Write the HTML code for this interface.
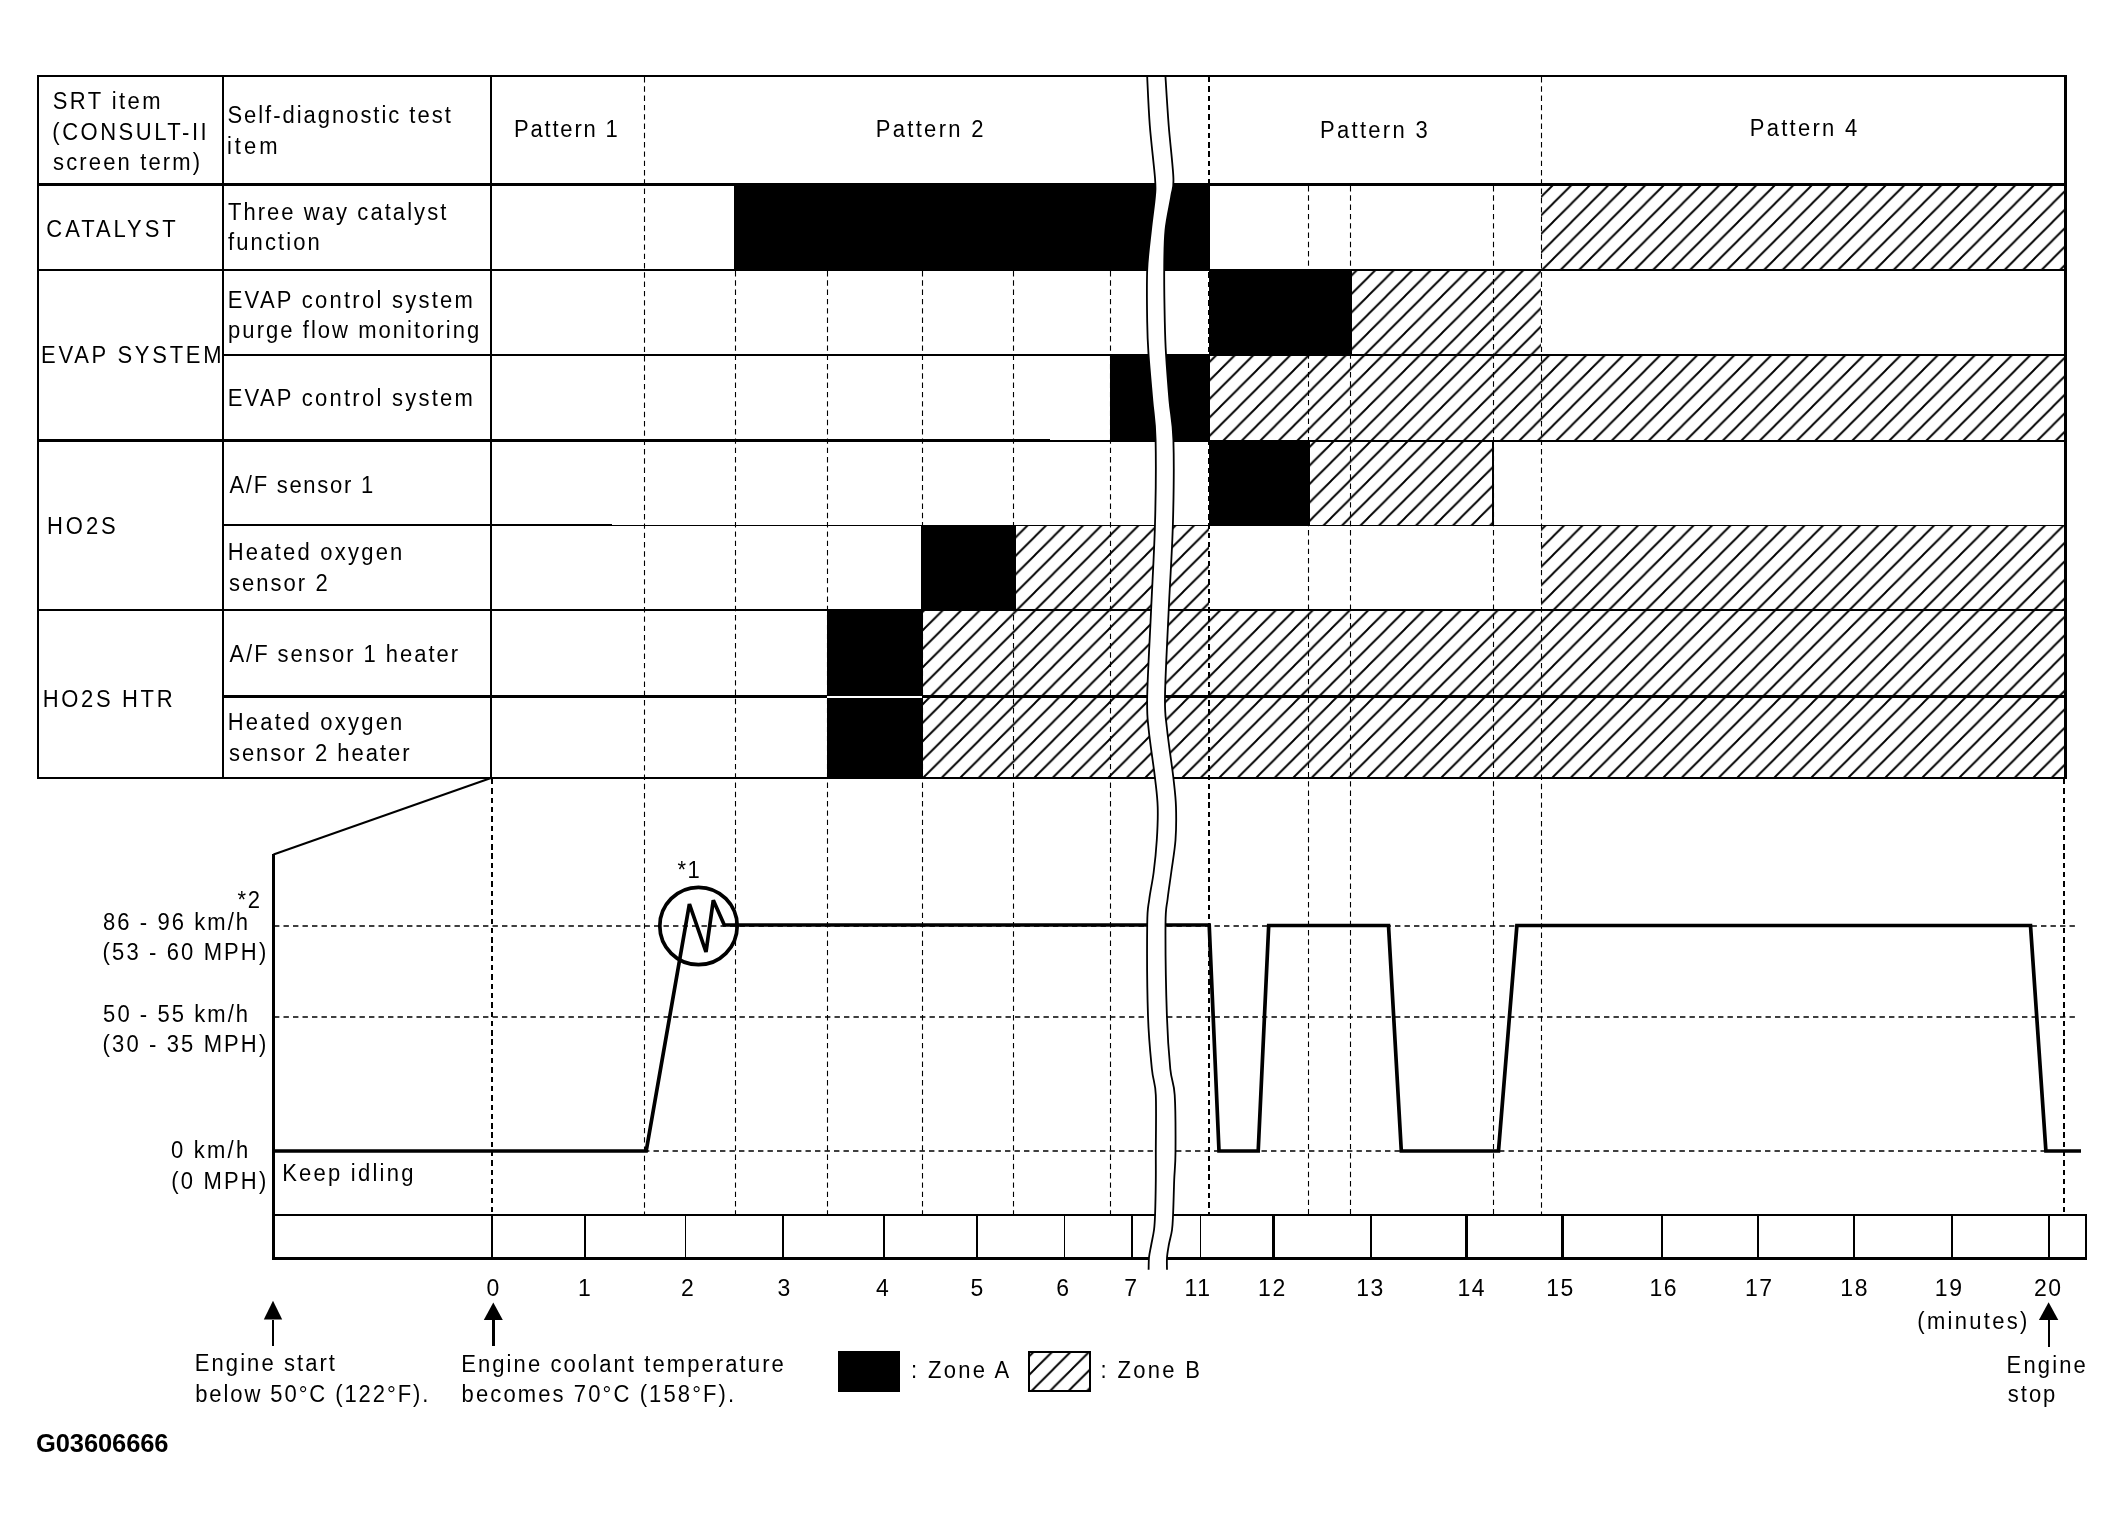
<!DOCTYPE html>
<html><head><meta charset="utf-8"><title>SRT driving pattern</title>
<style>html,body{margin:0;padding:0;background:#fff}svg{display:block}text{font-family:"Liberation Sans",sans-serif;fill:#000}</style></head><body>
<svg width="2124" height="1527" viewBox="0 0 2124 1527">
<defs><pattern id="h" width="18.5" height="18.5" patternUnits="userSpaceOnUse" x="-1" y="0"><path d="M-2,2 L2,-2 M-2,20.5 L20.5,-2 M16.5,20.5 L20.5,16.5" stroke="#000" stroke-width="1.9" fill="none"/></pattern></defs>
<rect width="2124" height="1527" fill="#fff"/>
<g>
<rect x="1541" y="185" width="523" height="85" fill="url(#h)"/>
<rect x="1351" y="270" width="190" height="85" fill="url(#h)"/>
<rect x="1209" y="355" width="855" height="85" fill="url(#h)"/>
<rect x="1309" y="440" width="184" height="85" fill="url(#h)"/>
<rect x="1015" y="525" width="194" height="85" fill="url(#h)"/>
<rect x="1541" y="525" width="523" height="85" fill="url(#h)"/>
<rect x="922" y="610" width="1142" height="86" fill="url(#h)"/>
<rect x="922" y="696" width="1142" height="82" fill="url(#h)"/>
</g><g fill="#000" shape-rendering="crispEdges">
<rect x="734" y="185" width="476" height="85"/>
<rect x="1209" y="270" width="142.5" height="85"/>
<rect x="1110" y="355" width="100" height="85"/>
<rect x="1209" y="440" width="100.5" height="85"/>
<rect x="920.5" y="525" width="95.0" height="85"/>
<rect x="827" y="610" width="95.5" height="86"/>
<rect x="827" y="696" width="95.5" height="82"/>
</g>
<g stroke="#000" fill="none" shape-rendering="crispEdges">
<line x1="37" y1="76" x2="2066.5" y2="76" stroke-width="2"/>
<line x1="37" y1="184.5" x2="2066" y2="184.5" stroke-width="3"/>
<line x1="37" y1="270" x2="2066" y2="270" stroke-width="2"/>
<line x1="223" y1="355" x2="2066" y2="355" stroke-width="2"/>
<line x1="37" y1="440.5" x2="1050" y2="440.5" stroke-width="3"/>
<line x1="1050" y1="441" x2="2066" y2="441" stroke-width="2"/>
<line x1="223" y1="525" x2="612" y2="525" stroke-width="2"/>
<line x1="612" y1="525.5" x2="2066" y2="525.5" stroke-width="1"/>
<line x1="37" y1="610" x2="2066" y2="610" stroke-width="2"/>
<line x1="223" y1="696.5" x2="2066" y2="696.5" stroke-width="3"/>
<line x1="37" y1="778" x2="2066" y2="778" stroke-width="2"/>
<line x1="38" y1="75" x2="38" y2="779" stroke-width="2"/>
<line x1="223" y1="75" x2="223" y2="779" stroke-width="2"/>
<line x1="491" y1="75" x2="491" y2="779" stroke-width="2"/>
<line x1="2065" y1="75" x2="2065" y2="779" stroke-width="3"/>
<line x1="1493" y1="440" x2="1493" y2="525" stroke-width="2"/>
<line x1="827" y1="696.5" x2="922" y2="696.5" stroke="#fff" stroke-width="2"/>
<line x1="273.5" y1="854" x2="273.5" y2="1260" stroke-width="3"/>
<line x1="272" y1="1215" x2="2087" y2="1215" stroke-width="2"/>
<line x1="272" y1="1258.5" x2="2087" y2="1258.5" stroke-width="3"/>
<line x1="2086" y1="1214" x2="2086" y2="1260" stroke-width="2"/>
<line x1="491.5" y1="1215" x2="491.5" y2="1258" stroke-width="2"/>
<line x1="584.7" y1="1215" x2="584.7" y2="1258" stroke-width="2"/>
<line x1="685.2" y1="1215" x2="685.2" y2="1258" stroke-width="1"/>
<line x1="783" y1="1215" x2="783" y2="1258" stroke-width="2"/>
<line x1="883.7" y1="1215" x2="883.7" y2="1258" stroke-width="2"/>
<line x1="977" y1="1215" x2="977" y2="1258" stroke-width="2"/>
<line x1="1064.3" y1="1215" x2="1064.3" y2="1258" stroke-width="1"/>
<line x1="1132.2" y1="1215" x2="1132.2" y2="1258" stroke-width="2"/>
<line x1="1200.5" y1="1215" x2="1200.5" y2="1258" stroke-width="1"/>
<line x1="1273" y1="1215" x2="1273" y2="1258" stroke-width="3"/>
<line x1="1371.2" y1="1215" x2="1371.2" y2="1258" stroke-width="2"/>
<line x1="1466.4" y1="1215" x2="1466.4" y2="1258" stroke-width="3"/>
<line x1="1562.6" y1="1215" x2="1562.6" y2="1258" stroke-width="3"/>
<line x1="1662.4" y1="1215" x2="1662.4" y2="1258" stroke-width="2"/>
<line x1="1757.9" y1="1215" x2="1757.9" y2="1258" stroke-width="2"/>
<line x1="1854" y1="1215" x2="1854" y2="1258" stroke-width="2"/>
<line x1="1951.5" y1="1215" x2="1951.5" y2="1258" stroke-width="2"/>
<line x1="2049.3" y1="1215" x2="2049.3" y2="1258" stroke-width="2"/>
</g>
<line x1="491" y1="778" x2="273.5" y2="854.5" stroke="#000" stroke-width="2"/>
<g stroke="#000" fill="none">
<line x1="492" y1="779" x2="492" y2="1215" stroke-width="2" stroke-dasharray="5.4 3.9" shape-rendering="crispEdges"/>
<line x1="644.5" y1="77" x2="644.5" y2="1215" stroke-width="1.1" stroke-dasharray="5.4 3.9"/>
<line x1="735.5" y1="271" x2="735.5" y2="1215" stroke-width="1.1" stroke-dasharray="5.4 3.9"/>
<line x1="827.5" y1="271" x2="827.5" y2="1215" stroke-width="1.1" stroke-dasharray="5.4 3.9"/>
<line x1="922.5" y1="271" x2="922.5" y2="1215" stroke-width="1.1" stroke-dasharray="5.4 3.9"/>
<line x1="1013.5" y1="271" x2="1013.5" y2="1215" stroke-width="1.1" stroke-dasharray="5.4 3.9"/>
<line x1="1110.5" y1="271" x2="1110.5" y2="1215" stroke-width="1.1" stroke-dasharray="5.4 3.9"/>
<line x1="1209" y1="77" x2="1209" y2="1215" stroke-width="2" stroke-dasharray="5.4 3.9" shape-rendering="crispEdges"/>
<line x1="1308.5" y1="186" x2="1308.5" y2="1215" stroke-width="1.1" stroke-dasharray="5.4 3.9"/>
<line x1="1350.5" y1="186" x2="1350.5" y2="1215" stroke-width="1.1" stroke-dasharray="5.4 3.9"/>
<line x1="1493.5" y1="186" x2="1493.5" y2="1215" stroke-width="1.1" stroke-dasharray="5.4 3.9"/>
<line x1="1541.5" y1="77" x2="1541.5" y2="1215" stroke-width="1.1" stroke-dasharray="5.4 3.9"/>
<line x1="2064" y1="779" x2="2064" y2="1215" stroke-width="2" stroke-dasharray="5.4 3.9" shape-rendering="crispEdges"/>
<line x1="274" y1="926" x2="2077" y2="926" stroke-width="1.7" stroke-dasharray="5.4 4.1"/>
<line x1="274" y1="1017" x2="2077" y2="1017" stroke-width="1.7" stroke-dasharray="5.4 4.1"/>
<line x1="644" y1="1151" x2="2046" y2="1151" stroke-width="1.7" stroke-dasharray="5.4 4.1"/>
</g>
<polyline fill="none" stroke="#000" stroke-width="3.7" stroke-linejoin="miter" stroke-miterlimit="2" points="273.5,1151 646.2,1151 689.4,904 706,952 713.3,900.3 724.3,925 1209.2,925 1219,1151 1258.2,1151 1268.7,925.5 1388.5,925.5 1401.3,1151 1498.5,1151 1516.9,925.5 2030.5,925.5 2045.9,1151 2081,1151"/>
<circle cx="698.5" cy="926" r="38.7" fill="none" stroke="#000" stroke-width="3.7"/>
<path fill="#fff" stroke="none" d="M1147.2,77.0 C1147.6,85.1 1148.5,108.7 1149.8,125.5 C1151.1,142.3 1154.1,166.2 1155.0,178.0 C1155.9,189.8 1155.7,187.3 1155.0,196.0 C1154.3,204.7 1152.3,217.7 1151.0,230.0 C1149.7,242.3 1147.8,254.7 1147.2,270.0 C1146.6,285.3 1147.0,308.0 1147.2,322.0 C1147.4,336.0 1147.6,340.8 1148.5,354.0 C1149.4,367.2 1151.2,386.7 1152.4,401.0 C1153.6,415.3 1155.2,419.5 1155.6,440.0 C1156.0,460.5 1155.8,495.7 1155.0,524.0 C1154.2,552.3 1152.4,581.3 1151.1,610.0 C1149.8,638.7 1147.6,676.3 1147.2,696.0 C1146.8,715.7 1147.2,714.3 1148.5,728.0 C1149.8,741.7 1153.5,764.8 1155.0,778.0 C1156.5,791.2 1157.4,796.7 1157.7,807.0 C1158.0,817.3 1157.5,829.2 1156.8,840.0 C1156.1,850.8 1155.0,862.2 1153.7,872.0 C1152.5,881.8 1150.4,890.2 1149.3,899.0 C1148.2,907.8 1147.4,905.5 1147.2,925.0 C1147.0,944.5 1147.2,992.0 1148.0,1016.0 C1148.8,1040.0 1150.6,1055.8 1151.9,1069.0 C1153.2,1082.2 1155.2,1081.2 1155.8,1095.0 C1156.4,1108.8 1155.8,1137.8 1155.8,1152.0 C1155.8,1166.2 1155.9,1169.7 1155.8,1180.0 C1155.7,1190.3 1155.4,1205.7 1155.1,1214.0 C1154.8,1222.3 1154.7,1224.8 1154.0,1230.0 C1153.3,1235.2 1152.0,1240.4 1151.2,1245.0 C1150.4,1249.6 1149.4,1253.4 1149.0,1257.5 C1148.6,1261.6 1148.7,1267.7 1148.6,1269.7 L1167.0,1269.7 C1167.0,1267.7 1166.7,1261.6 1167.0,1257.5 C1167.3,1253.4 1168.0,1249.6 1168.8,1245.0 C1169.6,1240.4 1171.3,1235.2 1172.0,1230.0 C1172.7,1224.8 1172.7,1222.3 1173.1,1214.0 C1173.5,1205.7 1173.8,1190.3 1174.2,1180.0 C1174.6,1169.7 1175.4,1166.2 1175.5,1152.0 C1175.6,1137.8 1175.6,1108.8 1174.7,1095.0 C1173.8,1081.2 1171.6,1082.2 1170.3,1069.0 C1169.0,1055.8 1167.7,1040.0 1166.9,1016.0 C1166.1,992.0 1165.4,944.5 1165.5,925.0 C1165.6,905.5 1166.6,907.8 1167.6,899.0 C1168.6,890.2 1170.0,881.8 1171.3,872.0 C1172.6,862.2 1174.7,850.8 1175.5,840.0 C1176.3,829.2 1176.3,817.3 1176.0,807.0 C1175.7,796.7 1174.9,791.2 1173.4,778.0 C1171.9,764.8 1168.3,741.7 1166.9,728.0 C1165.5,714.3 1164.7,715.7 1165.0,696.0 C1165.3,676.3 1167.4,638.7 1168.7,610.0 C1170.0,581.3 1172.1,552.3 1172.9,524.0 C1173.7,495.7 1174.0,460.5 1173.4,440.0 C1172.8,419.5 1170.7,415.3 1169.5,401.0 C1168.3,386.7 1166.8,367.2 1166.0,354.0 C1165.2,340.8 1165.1,336.0 1164.8,322.0 C1164.5,308.0 1164.1,285.3 1164.2,270.0 C1164.3,254.7 1164.3,242.3 1165.5,230.0 C1166.7,217.7 1170.0,204.7 1171.3,196.0 C1172.6,187.3 1173.8,189.8 1173.4,178.0 C1173.0,166.2 1170.0,142.3 1168.7,125.5 C1167.4,108.7 1166.0,85.1 1165.5,77.0 Z"/>
<path fill="none" stroke="#000" stroke-width="1.8" d="M1147.2,77.0 C1147.6,85.1 1148.5,108.7 1149.8,125.5 C1151.1,142.3 1154.1,166.2 1155.0,178.0 C1155.9,189.8 1155.7,187.3 1155.0,196.0 C1154.3,204.7 1152.3,217.7 1151.0,230.0 C1149.7,242.3 1147.8,254.7 1147.2,270.0 C1146.6,285.3 1147.0,308.0 1147.2,322.0 C1147.4,336.0 1147.6,340.8 1148.5,354.0 C1149.4,367.2 1151.2,386.7 1152.4,401.0 C1153.6,415.3 1155.2,419.5 1155.6,440.0 C1156.0,460.5 1155.8,495.7 1155.0,524.0 C1154.2,552.3 1152.4,581.3 1151.1,610.0 C1149.8,638.7 1147.6,676.3 1147.2,696.0 C1146.8,715.7 1147.2,714.3 1148.5,728.0 C1149.8,741.7 1153.5,764.8 1155.0,778.0 C1156.5,791.2 1157.4,796.7 1157.7,807.0 C1158.0,817.3 1157.5,829.2 1156.8,840.0 C1156.1,850.8 1155.0,862.2 1153.7,872.0 C1152.5,881.8 1150.4,890.2 1149.3,899.0 C1148.2,907.8 1147.4,905.5 1147.2,925.0 C1147.0,944.5 1147.2,992.0 1148.0,1016.0 C1148.8,1040.0 1150.6,1055.8 1151.9,1069.0 C1153.2,1082.2 1155.2,1081.2 1155.8,1095.0 C1156.4,1108.8 1155.8,1137.8 1155.8,1152.0 C1155.8,1166.2 1155.9,1169.7 1155.8,1180.0 C1155.7,1190.3 1155.4,1205.7 1155.1,1214.0 C1154.8,1222.3 1154.7,1224.8 1154.0,1230.0 C1153.3,1235.2 1152.0,1240.4 1151.2,1245.0 C1150.4,1249.6 1149.4,1253.4 1149.0,1257.5 C1148.6,1261.6 1148.7,1267.7 1148.6,1269.7"/>
<path fill="none" stroke="#000" stroke-width="1.8" d="M1165.5,77.0 C1166.0,85.1 1167.4,108.7 1168.7,125.5 C1170.0,142.3 1173.0,166.2 1173.4,178.0 C1173.8,189.8 1172.6,187.3 1171.3,196.0 C1170.0,204.7 1166.7,217.7 1165.5,230.0 C1164.3,242.3 1164.3,254.7 1164.2,270.0 C1164.1,285.3 1164.5,308.0 1164.8,322.0 C1165.1,336.0 1165.2,340.8 1166.0,354.0 C1166.8,367.2 1168.3,386.7 1169.5,401.0 C1170.7,415.3 1172.8,419.5 1173.4,440.0 C1174.0,460.5 1173.7,495.7 1172.9,524.0 C1172.1,552.3 1170.0,581.3 1168.7,610.0 C1167.4,638.7 1165.3,676.3 1165.0,696.0 C1164.7,715.7 1165.5,714.3 1166.9,728.0 C1168.3,741.7 1171.9,764.8 1173.4,778.0 C1174.9,791.2 1175.7,796.7 1176.0,807.0 C1176.3,817.3 1176.3,829.2 1175.5,840.0 C1174.7,850.8 1172.6,862.2 1171.3,872.0 C1170.0,881.8 1168.6,890.2 1167.6,899.0 C1166.6,907.8 1165.6,905.5 1165.5,925.0 C1165.4,944.5 1166.1,992.0 1166.9,1016.0 C1167.7,1040.0 1169.0,1055.8 1170.3,1069.0 C1171.6,1082.2 1173.8,1081.2 1174.7,1095.0 C1175.6,1108.8 1175.6,1137.8 1175.5,1152.0 C1175.4,1166.2 1174.6,1169.7 1174.2,1180.0 C1173.8,1190.3 1173.5,1205.7 1173.1,1214.0 C1172.7,1222.3 1172.7,1224.8 1172.0,1230.0 C1171.3,1235.2 1169.6,1240.4 1168.8,1245.0 C1168.0,1249.6 1167.3,1253.4 1167.0,1257.5 C1166.7,1261.6 1167.0,1267.7 1167.0,1269.7"/>
<polygon points="273,1300.7 263.8,1319.5 282.2,1319.5" fill="#000"/><line x1="273" y1="1319.5" x2="273" y2="1345.5" stroke="#000" stroke-width="2" shape-rendering="crispEdges"/>
<polygon points="493.3,1302.4 483.8,1320 502.8,1320" fill="#000"/><line x1="493.3" y1="1320" x2="493.3" y2="1346" stroke="#000" stroke-width="3" shape-rendering="crispEdges"/>
<polygon points="2048.6,1302.2 2038.8999999999999,1320 2058.2999999999997,1320" fill="#000"/><line x1="2048.6" y1="1320" x2="2048.6" y2="1346.5" stroke="#000" stroke-width="2" shape-rendering="crispEdges"/>
<rect x="838" y="1351" width="62" height="41" fill="#000" shape-rendering="crispEdges"/>
<rect x="1029" y="1352" width="61" height="39" fill="url(#h)" stroke="#000" stroke-width="2" shape-rendering="crispEdges"/>
<g style="filter:grayscale(1)">
<text x="52.7" y="101.87" font-size="22" letter-spacing="2.43" transform="scale(1,1.07)">SRT item</text>
<text x="52.3" y="130.56" font-size="22" letter-spacing="2.53" transform="scale(1,1.07)">(CONSULT-II</text>
<text x="53.1" y="159.07" font-size="22" letter-spacing="2.14" transform="scale(1,1.07)">screen term)</text>
<text x="46.3" y="221.50" font-size="22" letter-spacing="2.97" transform="scale(1,1.07)">CATALYST</text>
<text x="41.0" y="338.79" font-size="22" letter-spacing="2.74" transform="scale(1,1.07)">EVAP SYSTEM</text>
<text x="47.0" y="498.79" font-size="22" letter-spacing="2.97" transform="scale(1,1.07)">HO2S</text>
<text x="42.7" y="660.47" font-size="22" letter-spacing="2.67" transform="scale(1,1.07)">HO2S HTR</text>
<text x="227.4" y="115.33" font-size="22" letter-spacing="1.98" transform="scale(1,1.07)">Self-diagnostic test</text>
<text x="226.9" y="143.64" font-size="22" letter-spacing="3.07" transform="scale(1,1.07)">item</text>
<text x="227.9" y="205.61" font-size="22" letter-spacing="2.07" transform="scale(1,1.07)">Three way catalyst</text>
<text x="228.1" y="233.83" font-size="22" letter-spacing="2.10" transform="scale(1,1.07)">function</text>
<text x="227.7" y="287.48" font-size="22" letter-spacing="2.26" transform="scale(1,1.07)">EVAP control system</text>
<text x="228.1" y="315.70" font-size="22" letter-spacing="2.05" transform="scale(1,1.07)">purge flow monitoring</text>
<text x="227.7" y="379.72" font-size="22" letter-spacing="2.26" transform="scale(1,1.07)">EVAP control system</text>
<text x="229.4" y="460.56" font-size="22" letter-spacing="1.74" transform="scale(1,1.07)">A/F sensor 1</text>
<text x="227.7" y="523.83" font-size="22" letter-spacing="2.23" transform="scale(1,1.07)">Heated oxygen</text>
<text x="228.9" y="552.06" font-size="22" letter-spacing="2.06" transform="scale(1,1.07)">sensor 2</text>
<text x="229.4" y="618.32" font-size="22" letter-spacing="1.98" transform="scale(1,1.07)">A/F sensor 1 heater</text>
<text x="227.7" y="682.06" font-size="22" letter-spacing="2.23" transform="scale(1,1.07)">Heated oxygen</text>
<text x="228.9" y="710.93" font-size="22" letter-spacing="2.00" transform="scale(1,1.07)">sensor 2 heater</text>
<text x="514.0" y="128.04" font-size="22" letter-spacing="1.82" transform="scale(1,1.07)">Pattern 1</text>
<text x="875.8" y="128.41" font-size="22" letter-spacing="2.30" transform="scale(1,1.07)">Pattern 2</text>
<text x="1320.0" y="128.97" font-size="22" letter-spacing="2.31" transform="scale(1,1.07)">Pattern 3</text>
<text x="1749.7" y="127.57" font-size="22" letter-spacing="2.28" transform="scale(1,1.07)">Pattern 4</text>
<text x="677.6" y="820.47" font-size="22" letter-spacing="1.30" transform="scale(1,1.07)">*1</text>
<text x="237.4" y="848.60" font-size="22" letter-spacing="1.70" transform="scale(1,1.07)">*2</text>
<text x="103.0" y="868.79" font-size="22" letter-spacing="2.08" transform="scale(1,1.07)">86 - 96 km/h</text>
<text x="102.6" y="897.01" font-size="22" letter-spacing="2.13" transform="scale(1,1.07)">(53 - 60 MPH)</text>
<text x="103.1" y="955.42" font-size="22" letter-spacing="2.07" transform="scale(1,1.07)">50 - 55 km/h</text>
<text x="102.6" y="983.64" font-size="22" letter-spacing="2.13" transform="scale(1,1.07)">(30 - 35 MPH)</text>
<text x="170.9" y="1082.24" font-size="22" letter-spacing="2.26" transform="scale(1,1.07)">0 km/h</text>
<text x="171.3" y="1110.75" font-size="22" letter-spacing="2.18" transform="scale(1,1.07)">(0 MPH)</text>
<text x="282.2" y="1104.21" font-size="22" letter-spacing="2.24" transform="scale(1,1.07)">Keep idling</text>
<text x="1917.3" y="1241.87" font-size="22" letter-spacing="2.30" transform="scale(1,1.07)">(minutes)</text>
<text x="194.8" y="1281.31" font-size="22" letter-spacing="2.08" transform="scale(1,1.07)">Engine start</text>
<text x="195.2" y="1309.91" font-size="22" letter-spacing="1.93" transform="scale(1,1.07)">below 50°C (122°F).</text>
<text x="461.2" y="1282.06" font-size="22" letter-spacing="2.10" transform="scale(1,1.07)">Engine coolant temperature</text>
<text x="461.6" y="1310.28" font-size="22" letter-spacing="2.12" transform="scale(1,1.07)">becomes 70°C (158°F).</text>
<text x="911.0" y="1287.85" font-size="22" letter-spacing="2.34" transform="scale(1,1.07)">: Zone A</text>
<text x="1100.6" y="1287.85" font-size="22" letter-spacing="2.31" transform="scale(1,1.07)">: Zone B</text>
<text x="2006.6" y="1283.18" font-size="22" letter-spacing="2.16" transform="scale(1,1.07)">Engine</text>
<text x="2007.8" y="1310.28" font-size="22" letter-spacing="2.00" transform="scale(1,1.07)">stop</text>
<text x="36.0" y="1451.50" font-size="25.5" letter-spacing="-0.10" font-weight="bold">G03606666</text>
<text x="486.6" y="1211.21" font-size="23" letter-spacing="0.00" transform="scale(1,1.07)">0</text>
<text x="578.0" y="1211.21" font-size="23" letter-spacing="0.00" transform="scale(1,1.07)">1</text>
<text x="680.9" y="1211.21" font-size="23" letter-spacing="0.00" transform="scale(1,1.07)">2</text>
<text x="777.6" y="1211.21" font-size="23" letter-spacing="0.00" transform="scale(1,1.07)">3</text>
<text x="876.0" y="1211.21" font-size="23" letter-spacing="0.00" transform="scale(1,1.07)">4</text>
<text x="970.6" y="1211.21" font-size="23" letter-spacing="0.00" transform="scale(1,1.07)">5</text>
<text x="1056.2" y="1211.21" font-size="23" letter-spacing="0.00" transform="scale(1,1.07)">6</text>
<text x="1124.2" y="1211.21" font-size="23" letter-spacing="0.00" transform="scale(1,1.07)">7</text>
<text x="1184.6" y="1211.21" font-size="23" letter-spacing="1.60" transform="scale(1,1.07)">11</text>
<text x="1258.1" y="1211.21" font-size="23" letter-spacing="1.60" transform="scale(1,1.07)">12</text>
<text x="1356.2" y="1211.21" font-size="23" letter-spacing="1.60" transform="scale(1,1.07)">13</text>
<text x="1457.5" y="1211.21" font-size="23" letter-spacing="1.60" transform="scale(1,1.07)">14</text>
<text x="1546.2" y="1211.21" font-size="23" letter-spacing="1.60" transform="scale(1,1.07)">15</text>
<text x="1649.5" y="1211.21" font-size="23" letter-spacing="1.60" transform="scale(1,1.07)">16</text>
<text x="1745.0" y="1211.21" font-size="23" letter-spacing="1.60" transform="scale(1,1.07)">17</text>
<text x="1840.3" y="1211.21" font-size="23" letter-spacing="1.60" transform="scale(1,1.07)">18</text>
<text x="1934.8" y="1211.21" font-size="23" letter-spacing="1.60" transform="scale(1,1.07)">19</text>
<text x="2033.9" y="1211.21" font-size="23" letter-spacing="1.60" transform="scale(1,1.07)">20</text>
</g>
</svg></body></html>
